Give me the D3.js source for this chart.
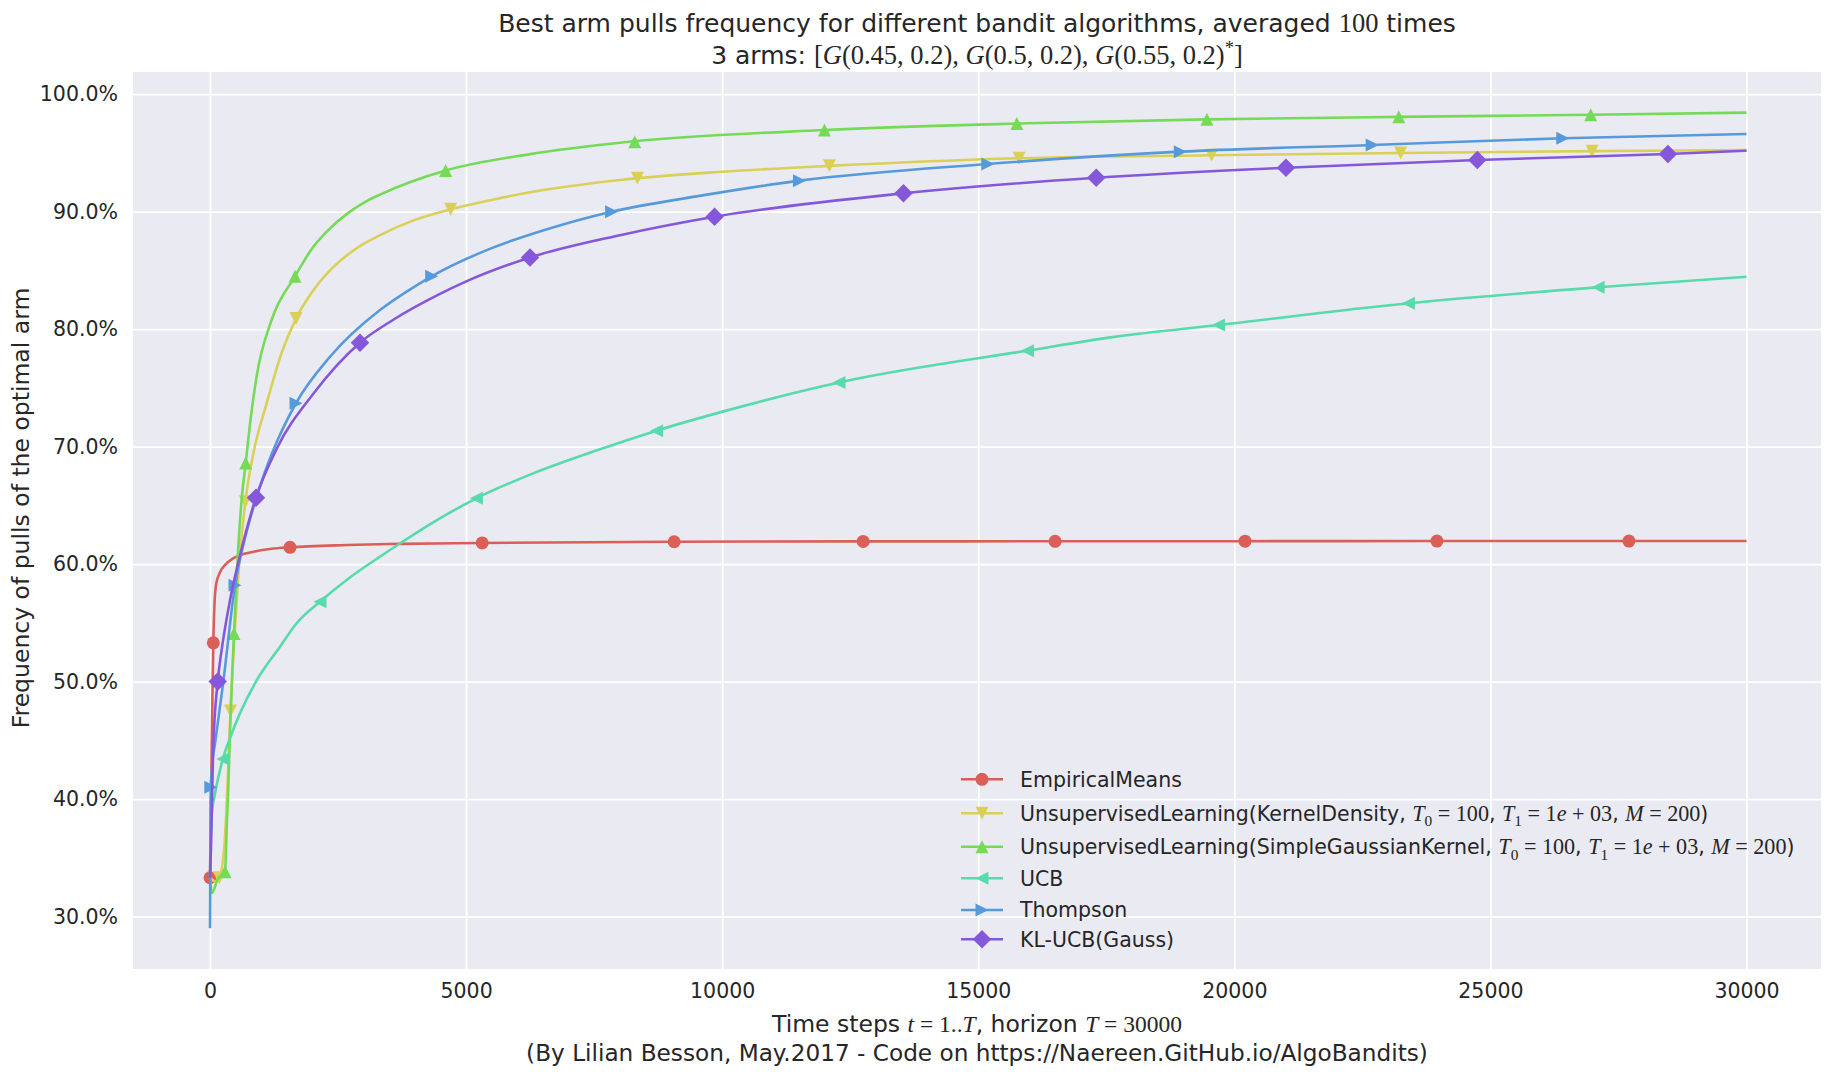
<!DOCTYPE html>
<html><head><meta charset="utf-8">
<script src="https://cdn.jsdelivr.net/npm/d3@7"></script>
<style>
body{margin:0;background:#fff;}
text{font-family:"DejaVu Sans",sans-serif;fill:#262626;white-space:pre;}
</style>
</head><body>
<svg id="chart" width="1832" height="1076"></svg>
<script>
// ---------------- DATA (percent of pulls of the optimal arm vs time step) ----------------
const seriesNames = ["EmpiricalMeans", "KernelDensity", "SimpleGaussianKernel", "UCB", "Thompson", "KL-UCB(Gauss)"];
const seriesColors = ["#db5f57", "#dbd057", "#75db57", "#57dbab", "#579adb", "#8557db"];
const seriesMarkers = ["circle", "triangleDown", "triangleUp", "triangleLeft", "triangleRight", "diamond"];

const empiricalMeans = [[0,33.3],[35,45],[65,53.3],[85,56.3],[120,58.3],[195,59.3],[300,59.95],[456,60.5],[650,60.85],[846,61.05],[1200,61.3],[1562,61.43],[2668,61.62],[3709,61.72],[5314,61.8],[9063,61.9],[12753,61.93],[16500,61.94],[20209,61.95],[23956,61.96],[30000,61.96]];
const empiricalMeansMarks = [[0,33.3],[65,53.3],[1562,61.43],[5314,61.8],[9063,61.9],[12753,61.93],[16500,61.94],[20209,61.95],[23956,61.96],[27705,61.96]];

const kernelDensity = [[0,33.3],[100,33.0],[180,33.3],[280,36],[340,41],[400,47.5],[480,54],[560,59.5],[690,65.3],[850,69.5],[1107,73.7],[1400,78],[1679,80.9],[2000,83.2],[2343,85.0],[2800,86.7],[3319,88.0],[4000,89.3],[4700,90.2],[5500,91.0],[6248,91.65],[8005,92.7],[10000,93.4],[12093,93.9],[15797,94.55],[19555,94.8],[23247,95.0],[26985,95.15],[30000,95.25]];
const kernelDensityMarks = [[180,33.3],[400,47.5],[690,65.3],[1679,80.9],[4700,90.2],[8344,92.85],[12093,93.9],[15797,94.55],[19555,94.8],[23247,95.0],[26985,95.15]];

const gaussianKernel = [[0,33.3],[40,32.0],[150,33.2],[293,33.8],[330,38],[358,41],[390,45.6],[469,54.1],[540,60.5],[618,65.5],[697,68.6],[800,72.6],[911,76.0],[1204,80.8],[1660,84.5],[2000,86.9],[2278,88.3],[2700,89.9],[3059,90.9],[3319,91.45],[4601,93.5],[6248,94.9],[8005,95.87],[11997,96.95],[15753,97.5],[19465,97.86],[23212,98.07],[26958,98.25],[30000,98.43]];
const gaussianKernelMarks = [[293,33.8],[469,54.1],[697,68.6],[1660,84.5],[4601,93.5],[8292,95.96],[11997,96.95],[15753,97.5],[19465,97.86],[23212,98.07],[26958,98.25]];

const ucb = [[0,33.3],[30,38.5],[100,40.5],[250,43.4],[400,45.3],[586,47.3],[911,50.1],[1367,52.97],[1692,54.96],[2148,56.8],[2668,58.65],[3319,60.63],[3709,61.75],[4300,63.4],[5201,65.6],[6298,67.7],[7500,69.6],[8720,71.36],[10028,73.0],[12280,75.46],[15960,78.17],[17697,79.36],[19690,80.35],[23399,82.2],[27103,83.56],[30000,84.46]];
const ucbMarks = [[250,43.4],[2148,56.8],[5201,65.6],[8720,71.36],[12280,75.46],[15960,78.17],[19690,80.35],[23399,82.2],[27103,83.56]];

const thompson = [[0,29.0],[8,36],[15,41.0],[40,42.8],[100,44.8],[260,50],[488,58.2],[700,62.5],[879,65.3],[1200,69.3],[1679,73.7],[2343,77.65],[3319,81.63],[3840,83.2],[4328,84.5],[5500,86.9],[6500,88.4],[7842,90.0],[9500,91.3],[11509,92.64],[15187,94.06],[18944,95.11],[22692,95.68],[26412,96.25],[30000,96.61]];
const thompsonMarks = [[15,41.0],[488,58.2],[1679,73.7],[4328,84.5],[7842,90.0],[11509,92.64],[15187,94.06],[18944,95.11],[22692,95.68],[26412,96.25]];

const klUCB = [[0,33.3],[20,36],[60,44],[150,50.0],[228,52.7],[390,56.9],[600,61.0],[898,65.65],[1300,69.8],[2017,74.5],[2929,78.85],[3579,80.8],[4490,83.0],[4971,84.0],[6248,86.1],[8005,88.0],[9852,89.57],[13540,91.56],[17304,92.89],[21008,93.74],[24744,94.40],[28466,94.91],[30000,95.19]];
const klUCBMarks = [[150,50.0],[898,65.65],[2929,78.85],[6248,86.1],[9852,89.57],[13540,91.56],[17304,92.89],[21008,93.74],[24744,94.40],[28466,94.91]];

const xTicks = [0, 5000, 10000, 15000, 20000, 25000, 30000];
const yTicks = [30, 40, 50, 60, 70, 80, 90, 100];

// text segments: t = text, m = math font, i = italic, sub/sup = sub/superscript
const titleLine1 = [{t:"Best arm pulls frequency for different bandit algorithms, averaged "},{t:"100",m:1},{t:" times"}];
const titleLine2 = [{t:"3 arms: "},{t:"[",m:1},{t:"G",m:1,i:1},{t:"(0.45, 0.2), ",m:1},{t:"G",m:1,i:1},{t:"(0.5, 0.2), ",m:1},{t:"G",m:1,i:1},{t:"(0.55, 0.2)",m:1},{t:"*",m:1,sup:1},{t:"]",m:1}];
const xLabel = [{t:"Time steps "},{t:"t",m:1,i:1},{t:" = 1..",m:1},{t:"T",m:1,i:1},{t:", horizon "},{t:"T",m:1,i:1},{t:" = 30000",m:1}];
const creditLine = [{t:"(By Lilian Besson, May.2017 - Code on https://Naereen.GitHub.io/AlgoBandits)"}];
const yLabel = "Frequency of pulls of the optimal arm";
const paramSegs = [{t:", "},{t:"T",m:1,i:1},{t:"0",m:1,sub:1},{t:" = 100",m:1},{t:", "},{t:"T",m:1,i:1},{t:"1",m:1,sub:1},{t:" = 1",m:1},{t:"e",m:1,i:1},{t:" + 03",m:1},{t:", "},{t:"M",m:1,i:1},{t:" = 200",m:1},{t:")"}];
const legendLabels = [
  [{t:"EmpiricalMeans"}],
  [{t:"UnsupervisedLearning(KernelDensity"}].concat(paramSegs),
  [{t:"UnsupervisedLearning(SimpleGaussianKernel"}].concat(paramSegs),
  [{t:"UCB"}],
  [{t:"Thompson"}],
  [{t:"KL-UCB(Gauss)"}]
];

const allSeries = [empiricalMeans, kernelDensity, gaussianKernel, ucb, thompson, klUCB];
const allMarks = [empiricalMeansMarks, kernelDensityMarks, gaussianKernelMarks, ucbMarks, thompsonMarks, klUCBMarks];

// ---------------- LAYOUT ----------------
const svg = d3.select("#chart");
const plot = {left:133, right:1821, top:72, bottom:969};
const x = d3.scaleLinear().domain([0, 30000]).range([210, 1746.5]);
const y = d3.scaleLinear().domain([30, 100]).range([916.5, 94.2]);

svg.append("rect").attr("x",plot.left).attr("y",plot.top)
  .attr("width",plot.right-plot.left).attr("height",plot.bottom-plot.top).attr("fill","#eaeaf2");

const tickFont = 20.5;
const xAxis = d3.axisBottom(x).tickValues(xTicks).tickSize(-(plot.bottom-plot.top)).tickPadding(14).tickFormat(d3.format("d"));
const gx = svg.append("g").attr("transform",`translate(0,${plot.bottom})`).call(xAxis);
const yAxis = d3.axisLeft(y).tickValues(yTicks).tickSize(-(plot.right-plot.left)).tickPadding(15).tickFormat(d => d.toFixed(1) + "%");
const gy = svg.append("g").attr("transform",`translate(${plot.left},0)`).call(yAxis);
[gx, gy].forEach(g => {
  g.select(".domain").remove();
  g.selectAll(".tick line").attr("stroke","#ffffff").attr("stroke-width",1.8);
  g.selectAll(".tick text").attr("font-family","DejaVu Sans").attr("font-size",tickFont).attr("fill","#262626");
});
gx.selectAll(".tick text").attr("dy","0.71em").attr("y", 14);

// marker shapes
const msize = 13;
function markerPath(shape, s) {
  const h = s/2;
  switch(shape) {
    case "circle": return d3.symbol(d3.symbolCircle, Math.PI*h*h)();
    case "triangleUp": return `M0,${-h}L${h},${h}L${-h},${h}Z`;
    case "triangleDown": return `M0,${h}L${h},${-h}L${-h},${-h}Z`;
    case "triangleLeft": return `M${-h},0L${h},${-h}L${h},${h}Z`;
    case "triangleRight": return `M${h},0L${-h},${-h}L${-h},${h}Z`;
    case "diamond": { const d = h*1.42; return `M0,${-d}L${d},0L0,${d}L${-d},0Z`; }
  }
}

const line = d3.line().x(d => x(d[0])).y(d => y(d[1])).curve(d3.curveMonotoneX);
svg.append("clipPath").attr("id","pc").append("rect")
  .attr("x",plot.left).attr("y",plot.top).attr("width",plot.right-plot.left).attr("height",plot.bottom-plot.top);
const series = svg.append("g").attr("clip-path","url(#pc)");
allSeries.forEach((data, i) => {
  const g = series.append("g");
  g.append("path").attr("d", line(data)).attr("fill","none")
    .attr("stroke", seriesColors[i]).attr("stroke-width",2.6).attr("stroke-linejoin","round");
  g.selectAll("path.m").data(allMarks[i]).enter().append("path").attr("class","m")
    .attr("d", markerPath(seriesMarkers[i], msize))
    .attr("transform", d => `translate(${x(d[0])},${y(d[1])})`)
    .attr("fill", seriesColors[i]);
});

// rich text helper
function rich(textSel, segs, fs, mathScale) {
  let shift = 0;
  segs.forEach(s => {
    const ts = textSel.append("tspan").text(s.t);
    let target = 0, size = fs;
    if (s.m) { ts.attr("font-family","Liberation Serif"); size = fs*(mathScale || 1.06); }
    if (s.i) ts.attr("font-style","italic");
    if (s.sub) { target = fs*0.28; size = fs*0.75; }
    if (s.sup) { target = -fs*0.42; size = fs*0.75; }
    ts.attr("font-size", size);
    if (target !== shift) { ts.attr("dy", target - shift); shift = target; }
  });
}

const cx = (plot.left + plot.right)/2;
rich(svg.append("text").attr("x",cx).attr("y",32).attr("text-anchor","middle").attr("font-size",25), titleLine1, 25, 1.06);
rich(svg.append("text").attr("x",cx).attr("y",64).attr("text-anchor","middle").attr("font-size",25), titleLine2, 25, 1.06);
rich(svg.append("text").attr("x",cx).attr("y",1032).attr("text-anchor","middle").attr("font-size",23.5), xLabel, 23.5, 1.0);
rich(svg.append("text").attr("x",cx).attr("y",1061).attr("text-anchor","middle").attr("font-size",23.2), creditLine, 23.2);
svg.append("text").attr("transform","translate(29,508) rotate(-90)").attr("text-anchor","middle")
  .attr("font-size",23.5).text(yLabel);

// legend
const legendY = [779.3, 813.3, 846.7, 878.3, 910, 939.3];
const legend = svg.append("g");
legendLabels.forEach((segs, i) => {
  const g = legend.append("g").attr("transform", `translate(0,${legendY[i]})`);
  g.append("line").attr("x1",961).attr("x2",1003).attr("y1",0).attr("y2",0)
    .attr("stroke",seriesColors[i]).attr("stroke-width",2.6);
  g.append("path").attr("d", markerPath(seriesMarkers[i], msize)).attr("transform","translate(982,0)")
    .attr("fill", seriesColors[i]);
  rich(g.append("text").attr("x",1020).attr("y",7.2).attr("font-size",20.5), segs, 20.5, 1.08);
});
</script>
</body></html>
